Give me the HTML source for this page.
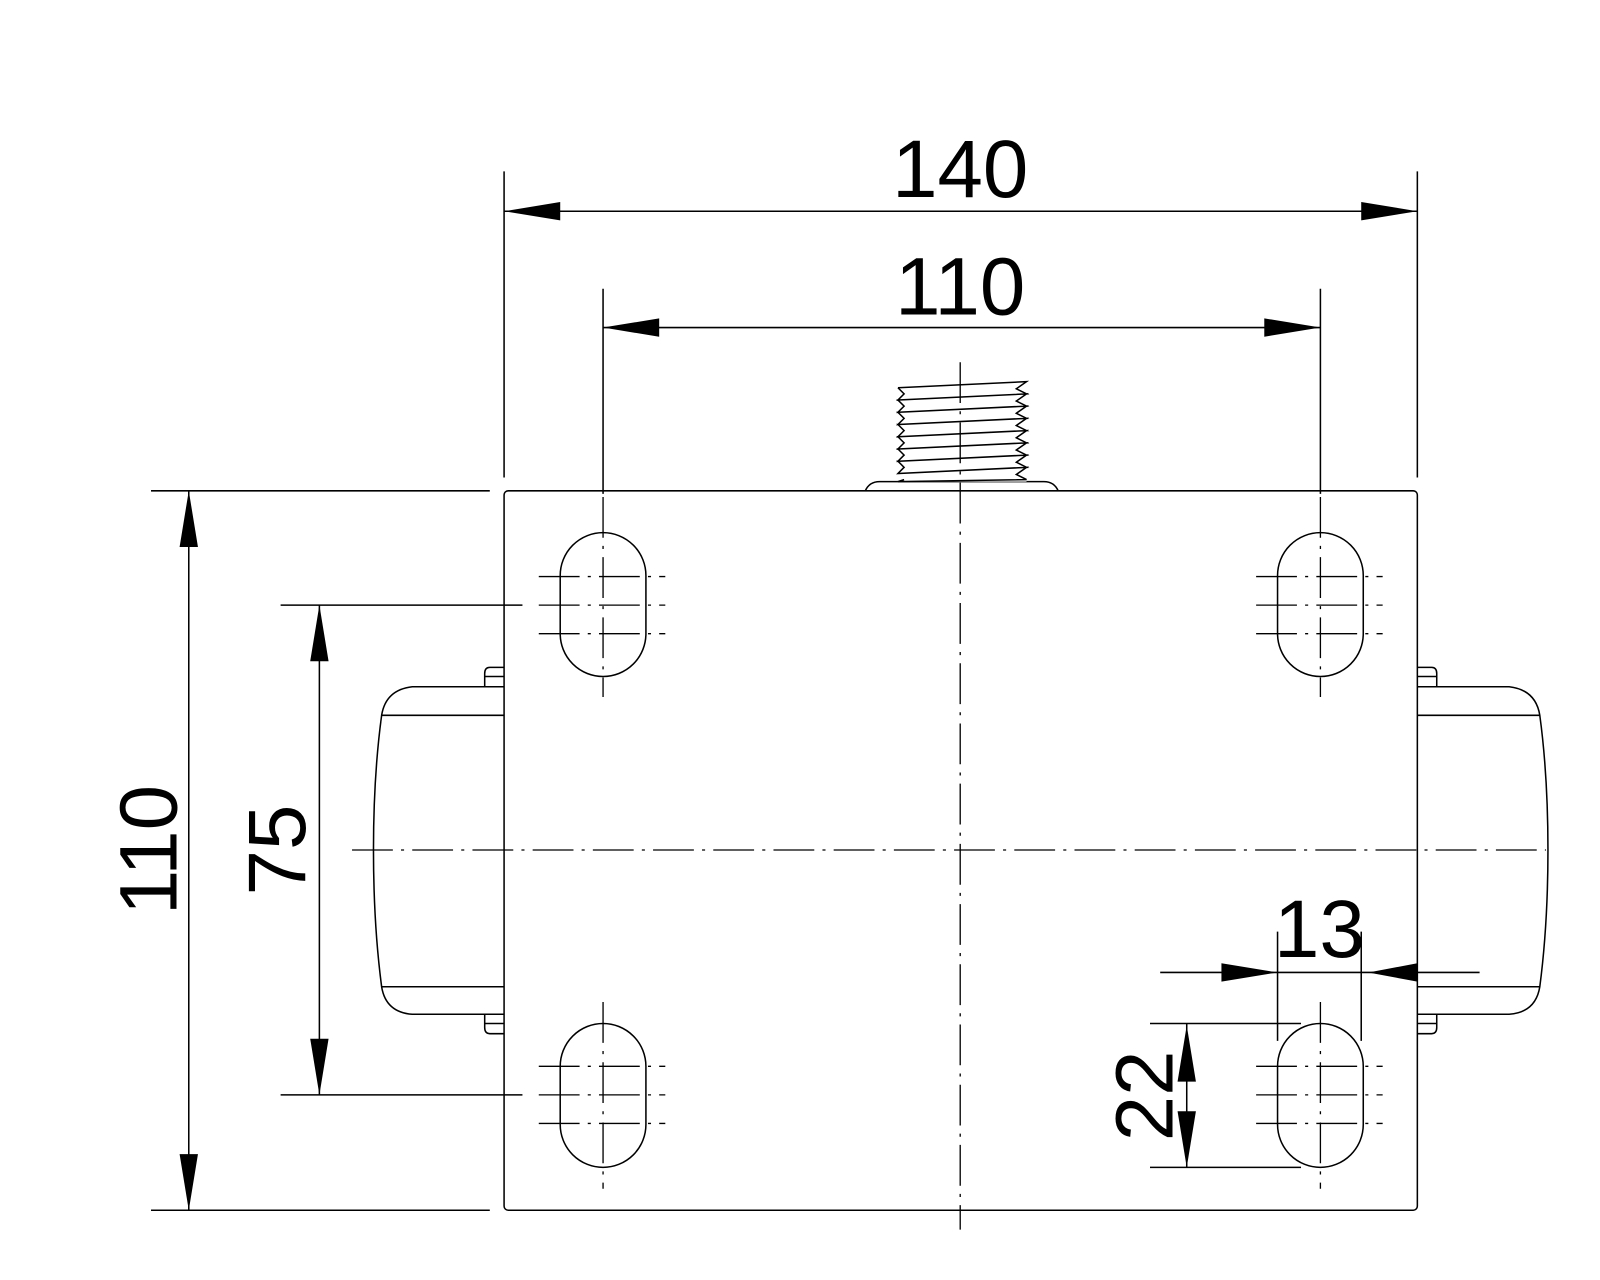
<!DOCTYPE html>
<html><head><meta charset="utf-8"><style>html,body{margin:0;padding:0;background:#fff}svg{display:block}</style></head>
<body>
<svg width="1600" height="1280" viewBox="0 0 1568 1254.4" preserveAspectRatio="none" xmlns="http://www.w3.org/2000/svg">
<g fill="none" stroke="#000" stroke-width="1.5">
<rect x="494" y="481" width="895" height="705" rx="4"/>
<path d="M848,481 Q852,472 862,472 L1023,472 Q1033,472 1037,481"/>
<rect x="880" y="374" width="126" height="98" stroke="none" fill="#fff"/>
<path d="M880,380 L1006,374 L996,381 L1006,386 L880,392 L886,386 L880,380 M880,392 L1006,386 L996,393 L1006,398 L880,404 L886,398 Z M880,404 L1006,398 L996,405 L1006,410 L880,416 L886,410 Z M880,416 L1006,410 L996,417 L1006,422 L880,428 L886,422 Z M880,428 L1006,422 L996,429 L1006,434 L880,440 L886,434 Z M880,440 L1006,434 L996,441 L1006,446 L880,452 L886,446 Z M880,452 L1006,446 L996,453 L1006,458 L880,464 L886,458 Z M880,464 L1006,458 L996,465 L1006,470 L880,472 L886,470"/>
<path d="M494,673 L404,673 Q378,676 374,701 Q366,760 366,833 Q366,906 374,967 Q378,992 404,994 L494,994"/>
<path d="M374,701 L494,701 M374,967 L494,967"/>
<path d="M494,654 L480,654 Q475,654 475,660 L475,673 M475,663 L494,663"/>
<path d="M494,1013 L480,1013 Q475,1013 475,1007 L475,994 M475,1003 L494,1003"/>
<path d="M1389,673 L1479,673 Q1505,676 1509,701 Q1517,760 1517,833 Q1517,906 1509,967 Q1505,992 1479,994 L1389,994"/>
<path d="M1509,701 L1389,701 M1509,967 L1389,967"/>
<path d="M1389,654 L1403,654 Q1408,654 1408,660 L1408,673 M1408,663 L1389,663"/>
<path d="M1389,1013 L1403,1013 Q1408,1013 1408,1007 L1408,994 M1408,1003 L1389,1003"/>
<rect x="549" y="522" width="84" height="141" rx="42"/>
<rect x="1252" y="522" width="84" height="141" rx="42"/>
<rect x="549" y="1003" width="84" height="141" rx="42"/>
<rect x="1252" y="1003" width="84" height="141" rx="42"/>
</g>
<g fill="none" stroke="#000" stroke-width="1.3" stroke-dasharray="40,8,3,8">
<path d="M941,355 L941,1205 M345,833 L1515,833"/>
<path d="M591,487 L591,683 M1294,487 L1294,683 M591,982 L591,1165 M1294,982 L1294,1165"/>
<path d="M528,565 L652,565 M528,593 L652,593 M528,621 L652,621 M1231,565 L1355,565 M1231,593 L1355,593 M1231,621 L1355,621"/>
<path d="M528,1045 L652,1045 M528,1073 L652,1073 M528,1101 L652,1101 M1231,1045 L1355,1045 M1231,1073 L1355,1073 M1231,1101 L1355,1101"/>
</g>
<g fill="none" stroke="#000" stroke-width="1.5">
<path d="M494,168 L494,468 M1389,168 L1389,468 M494,207 L1389,207"/>
<path d="M591,283 L591,484 M1294,283 L1294,484 M591,321 L1294,321"/>
<path d="M148,481 L480,481 M148,1186 L480,1186 M185,481 L185,1186"/>
<path d="M275,593 L512,593 M275,1073 L512,1073 M313,593 L313,1073"/>
<path d="M1252,913 L1252,1020 M1334,913 L1334,1020 M1137,953 L1450,953"/>
<path d="M1127,1003 L1275,1003 M1127,1144 L1275,1144 M1163,1003 L1163,1144"/>
</g>
<g fill="#000">
<polygon points="494,207 549,198 549,216"/>
<polygon points="1389,207 1334,198 1334,216"/>
<polygon points="591,321 646,312 646,330"/>
<polygon points="1294,321 1239,312 1239,330"/>
<polygon points="185,481 176,536 194,536"/>
<polygon points="185,1186 176,1131 194,1131"/>
<polygon points="313,593 304,648 322,648"/>
<polygon points="313,1073 304,1018 322,1018"/>
<polygon points="1252,953 1197,944 1197,962"/>
<polygon points="1341,953 1389,944 1389,962"/>
<polygon points="1163,1005 1154,1060 1172,1060"/>
<polygon points="1163,1144 1154,1089 1172,1089"/>
</g>
<g font-family="Liberation Sans, sans-serif" font-size="80" fill="#000" text-anchor="middle">
<text x="941" y="193">140</text>
<text x="941" y="308">110</text>
<text x="1293" y="938">13</text>
<text transform="translate(173,833) rotate(-90)">110</text>
<text transform="translate(299,833) rotate(-90)">75</text>
<text transform="translate(1149,1074) rotate(-90)">22</text>
</g>
</svg>
</body></html>
